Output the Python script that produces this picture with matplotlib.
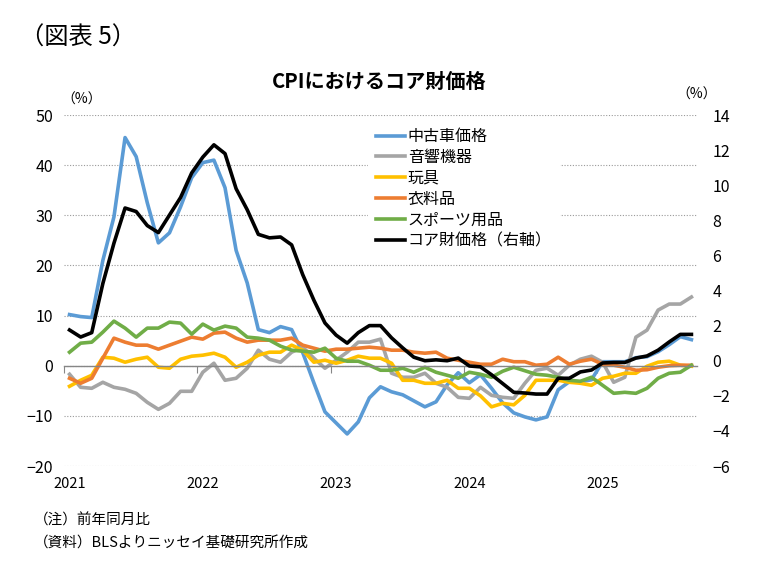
import matplotlib
matplotlib.use('Agg')
import matplotlib.pyplot as plt
import numpy as np

plt.rcParams['font.family'] = ['Noto Sans CJK JP', 'DejaVu Sans']

# monthly, 2021-01 .. 2025-09 (YoY %)
years = ['2021', '2022', '2023', '2024', '2025']

used_cars = [10.2, 9.8, 9.6, 21.0, 29.7, 45.5, 41.7, 32.5, 24.5, 26.5, 31.7, 37.5,
             40.5, 41.0, 35.5, 23.0, 16.5, 7.2, 6.6, 7.8, 7.2, 2.6, -3.4, -9.2,
             -11.4, -13.6, -11.2, -6.4, -4.2, -5.2, -5.8, -7.0, -8.2, -7.2, -3.8, -1.4,
             -3.4, -1.8, -4.5, -7.4, -9.4, -10.2, -10.8, -10.2, -4.8, -3.2, -3.2, -2.8,
             0.8, 0.8, 0.8, 1.6, 1.8, 2.8, 4.2, 5.8, 5.2]
audio = [-1.7, -4.3, -4.5, -3.3, -4.3, -4.7, -5.5, -7.3, -8.7, -7.5, -5.1, -5.1,
         -1.3, 0.5, -2.9, -2.5, -0.5, 3.1, 1.3, 0.7, 2.7, 3.7, 1.5, -0.5,
         1.1, 2.7, 4.7, 4.7, 5.3, -1.5, -2.3, -2.3, -1.5, -3.5, -4.3, -6.3,
         -6.5, -4.3, -5.9, -6.3, -6.5, -3.5, -0.9, -0.5, -1.9, 0.1, 1.3, 1.9,
         0.7, -3.3, -2.3, 5.7, 7.1, 11.1, 12.3, 12.3, 13.7]
toys = [-4.1, -2.9, -1.9, 1.7, 1.5, 0.7, 1.3, 1.7, -0.3, -0.5, 1.3, 1.9,
        2.1, 2.5, 1.7, -0.3, 0.7, 2.1, 2.7, 2.7, 4.1, 3.1, 0.7, 1.1,
        0.5, 1.1, 1.9, 1.5, 1.5, 0.5, -2.9, -2.9, -3.5, -3.5, -2.9, -4.5,
        -4.5, -6.0, -8.2, -7.5, -7.8, -5.9, -2.9, -2.9, -2.9, -3.3, -3.5, -3.9,
        -2.5, -2.1, -1.5, -1.5, -0.1, 0.7, 0.9, 0.1, -0.1]
apparel = [-2.5, -3.5, -2.5, 1.5, 5.5, 4.7, 4.1, 4.1, 3.3, 4.1, 4.9, 5.7,
           5.3, 6.5, 6.7, 5.5, 4.7, 5.1, 5.1, 5.1, 5.5, 4.1, 3.5, 2.9,
           3.3, 3.3, 3.5, 3.7, 3.5, 3.1, 3.1, 2.7, 2.5, 2.7, 1.5, 1.1,
           0.7, 0.3, 0.3, 1.3, 0.8, 0.8, 0.1, 0.3, 1.7, 0.3, 0.9, 1.3,
           0.3, 0.1, -0.3, -0.9, -0.8, -0.3, 0.0, 0.1, 0.1]
sports = [2.7, 4.5, 4.7, 6.7, 8.9, 7.5, 5.7, 7.5, 7.5, 8.7, 8.5, 6.3,
          8.3, 7.1, 7.9, 7.5, 5.7, 5.5, 5.1, 3.9, 3.1, 2.9, 2.7, 3.5,
          1.5, 0.9, 0.9, 0.1, -0.9, -0.9, -0.5, -1.3, -0.3, -1.3, -1.9, -2.5,
          -1.3, -1.7, -2.3, -1.1, -0.3, -1.0, -1.7, -1.9, -2.3, -2.9, -3.1, -2.3,
          -3.9, -5.5, -5.3, -5.5, -4.5, -2.5, -1.5, -1.3, 0.1]
# right axis
core_goods = [1.75, 1.35, 1.6, 4.4, 6.7, 8.7, 8.5, 7.7, 7.3, 8.3, 9.3, 10.7,
              11.6, 12.3, 11.8, 9.8, 8.6, 7.2, 7.0, 7.05, 6.6, 4.9, 3.45, 2.15,
              1.46, 1.0, 1.6, 2.0, 2.0, 1.3, 0.73, 0.2, 0.0, 0.05, 0.0, 0.15,
              -0.3, -0.35, -0.8, -1.3, -1.8, -1.84, -1.9, -1.9, -1.0, -1.0, -0.64, -0.53,
              -0.13, -0.1, -0.1, 0.15, 0.27, 0.6, 1.07, 1.5, 1.5]

labels = ['中古車価格', '音響機器', '玩具', '衣料品', 'スポーツ用品', 'コア財価格（右軸）']
colors = ['#5B9BD5', '#A5A5A5', '#FFC000', '#ED7D31', '#70AD47', '#000000']

n = len(used_cars)
x = np.arange(n)

fig = plt.figure(figsize=(7.59, 5.73), dpi=100)
ax = fig.add_axes([0.0843, 0.1867, 0.834, 0.6126])
ax2 = ax.twinx()

handles = []
for vals, lab, col in zip([used_cars, audio, toys, apparel, sports], labels[:5], colors[:5]):
    h, = ax.plot(x, vals, color=col, lw=2.6, label=lab, solid_joinstyle='round')
    handles.append(h)
h, = ax2.plot(x, core_goods, color=colors[5], lw=2.6, label=labels[5], solid_joinstyle='round')
handles.append(h)

ax.set_xlim(-0.5, n - 0.5)
ax.set_ylim(-20, 50)
ax.set_yticks(np.arange(-20, 51, 10))
ax2.set_ylim(-6, 14)
ax2.set_yticks(np.arange(-6, 15, 2))

ax.grid(axis='y', color='#9a9a9a', ls=(0, (1, 1.5)), lw=0.8)
for a in (ax, ax2):
    for s in ['top', 'left', 'right']:
        a.spines[s].set_visible(False)
ax2.spines['bottom'].set_visible(False)
ax.spines['bottom'].set_position(('data', 0))
ax.spines['bottom'].set_color('#868686')
ax.spines['bottom'].set_linewidth(1.0)

# year boundaries as tick marks on the zero line
ax.set_xticks(np.arange(-0.5, n, 12))
ax.tick_params(axis='x', length=5, color='#868686', labelbottom=False)
ax.tick_params(axis='y', length=0, labelsize=11.5, pad=8)
ax2.tick_params(axis='y', length=0, labelsize=11.5, pad=11)

for k, yr in enumerate(years):
    ax.text(k * 12, -0.05, yr, transform=ax.get_xaxis_transform(),
            ha='center', va='center', fontsize=10.5)

leg = ax2.legend(handles=handles, loc='upper left', bbox_to_anchor=(0.48, 0.985),
                 frameon=True, facecolor='white', edgecolor='none', framealpha=1,
                 fontsize=11.5, handlelength=1.8, handletextpad=0.2,
                 labelspacing=0.24, borderpad=0.5, borderaxespad=0)

fig.text(0.027, 0.935, '（図表 5）', fontsize=17.5, ha='left', va='center')
fig.text(0.500, 0.857, 'CPIにおけるコア財価格', fontsize=14.5, fontweight='bold',
         ha='center', va='center')
fig.text(0.107, 0.826, '（%）', fontsize=10, ha='center', va='center')
fig.text(0.918, 0.834, '（%）', fontsize=10, ha='center', va='center')
fig.text(0.045, 0.091, '（注）前年同月比', fontsize=10.5, ha='left', va='center')
fig.text(0.045, 0.052, '（資料）BLSよりニッセイ基礎研究所作成', fontsize=10.5, ha='left', va='center')

fig.savefig('out.png', dpi=100, facecolor='white')
